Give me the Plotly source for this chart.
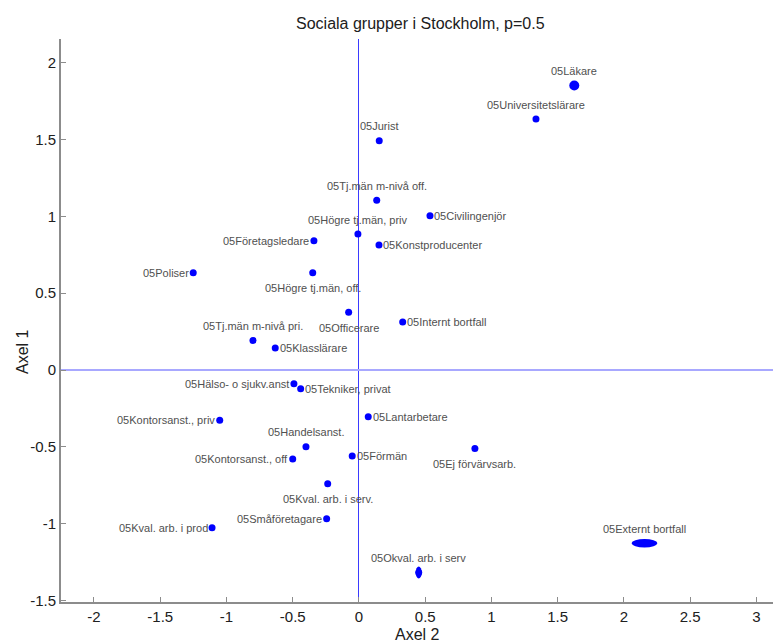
import plotly.graph_objects as go

# Social groups in Stockholm, correspondence-analysis coordinates
groups = [
    "05Läkare", "05Universitetslärare", "05Jurist", "05Tj.män m-nivå off.",
    "05Civilingenjör", "05Högre tj.män, priv", "05Konstproducenter",
    "05Företagsledare", "05Poliser", "05Högre tj.män, off.", "05Officerare",
    "05Internt bortfall", "05Tj.män m-nivå pri.", "05Klasslärare",
    "05Hälso- o sjukv.anst", "05Tekniker, privat", "05Lantarbetare",
    "05Kontorsanst., priv", "05Handelsanst.", "05Kontorsanst., off",
    "05Förmän", "05Ej förvärvsarb.", "05Kval. arb. i serv.",
    "05Småföretagare", "05Kval. arb. i prod", "05Externt bortfall",
    "05Okval. arb. i serv",
]
axel2 = [
    1.625, 1.336, 0.153, 0.134,
    0.536, -0.008, 0.151,
    -0.340, -1.251, -0.349, -0.078,
    0.330, -0.800, -0.632,
    -0.491, -0.440, 0.070,
    -1.051, -0.400, -0.500,
    -0.051, 0.875, -0.236,
    -0.244, -1.109, 2.155,
    0.451,
]
axel1 = [
    1.852, 1.634, 1.493, 1.105,
    1.005, 0.885, 0.814,
    0.842, 0.633, 0.633, 0.376,
    0.3125, 0.193, 0.143,
    -0.089, -0.122, -0.304,
    -0.327, -0.499, -0.579,
    -0.560, -0.510, -0.740,
    -0.968, -1.027, -1.128,
    -1.318,
]

x_tick_vals = [-2, -1.5, -1, -0.5, 0, 0.5, 1, 1.5, 2, 2.5, 3]
x_tick_text = ["-2", "-1.5", "-1", "-0.5", "0", "0.5", "1", "1.5", "2", "2.5", "3"]
y_tick_vals = [-1.5, -1, -0.5, 0, 0.5, 1, 1.5, 2]
y_tick_text = ["-1.5", "-1", "-0.5", "0", "0.5", "1", "1.5", "2"]

# --- styling ---------------------------------------------------------------
label_side = [
    "top", "top", "top", "top",
    "right", "top", "right",
    "left", "left", "bottom", "bottom",
    "right", "top", "right",
    "left", "right", "right",
    "left", "top", "left",
    "right", "bottom", "bottom",
    "left", "left", "top",
    "top",
]
marker_size = [10 if g == "05Läkare" else 7 for g in groups]
# elongated markers: half-width / half-height in pixels
ellipse_px = {"05Externt bortfall": (12.8, 4.2), "05Okval. arb. i serv": (3.0, 5.9)}

BLUE = "#0000ff"
FONT = "Arial, Liberation Sans, sans-serif"
AXIS_GREY = "#8c8c8c"

fig = go.Figure()
fig.add_trace(go.Scatter(
    x=axel2, y=axel1, mode="markers",
    marker=dict(color=BLUE, size=marker_size, opacity=1, line=dict(width=0)),
    text=groups, hoverinfo="text", showlegend=False,
))

shapes = []
for name, (rx, ry) in ellipse_px.items():
    i = groups.index(name)
    shapes.append(dict(
        type="circle", xref="x", yref="y",
        xsizemode="pixel", ysizemode="pixel",
        xanchor=axel2[i], yanchor=axel1[i],
        x0=-rx, x1=rx, y0=-ry, y1=ry,
        fillcolor=BLUE, line=dict(width=0),
    ))

offsets = {
    "top": dict(xanchor="center", yanchor="middle", xshift=0, yshift=14.5),
    "bottom": dict(xanchor="center", yanchor="middle", xshift=0, yshift=-15.5),
    "right": dict(xanchor="left", yanchor="middle", xshift=2.5, yshift=0),
    "left": dict(xanchor="right", yanchor="middle", xshift=-2.5, yshift=0),
}
annotations = []
for g, xv, yv, side in zip(groups, axel2, axel1, label_side):
    annotations.append(dict(
        x=xv, y=yv, xref="x", yref="y", text=g, showarrow=False,
        font=dict(family=FONT, size=11, color="#505050"),
        **offsets[side],
    ))

# title and axis captions
annotations += [
    dict(text="Sociala grupper i Stockholm, p=0.5", xref="paper", yref="paper",
         x=0.505, y=1.0284, xanchor="center", yanchor="middle", showarrow=False,
         font=dict(family=FONT, size=16, color="#202020")),
    dict(text="Axel 2", xref="paper", yref="paper",
         x=0.5014, y=-0.0586, xanchor="center", yanchor="middle", showarrow=False,
         font=dict(family=FONT, size=16, color="#202020")),
    dict(text="Axel 1", xref="paper", yref="paper", textangle=-90,
         x=-0.0548, y=0.4458, xanchor="center", yanchor="middle", showarrow=False,
         font=dict(family=FONT, size=16, color="#202020")),
]

axis_common = dict(
    showgrid=False, showline=True, linecolor=AXIS_GREY, linewidth=2,
    ticks="inside", ticklen=5, tickwidth=1, tickcolor=AXIS_GREY,
    tickfont=dict(family=FONT, size=15, color="#202020"),
    zeroline=True, fixedrange=True,
)

fig.update_layout(
    width=773, height=644,
    margin=dict(l=61, r=0, t=39, b=42),
    paper_bgcolor="white", plot_bgcolor="white",
    xaxis=dict(range=[-2.249, 3.125], tickvals=x_tick_vals, ticktext=x_tick_text,
               zerolinecolor="#3b3bff", zerolinewidth=1, **axis_common),
    yaxis=dict(range=[-1.510, 2.155], tickvals=y_tick_vals, ticktext=y_tick_text,
               zerolinecolor="#a8a8ff", zerolinewidth=2, **axis_common),
    shapes=shapes,
    annotations=annotations,
    showlegend=False,
)

fig.write_html("out.html")
